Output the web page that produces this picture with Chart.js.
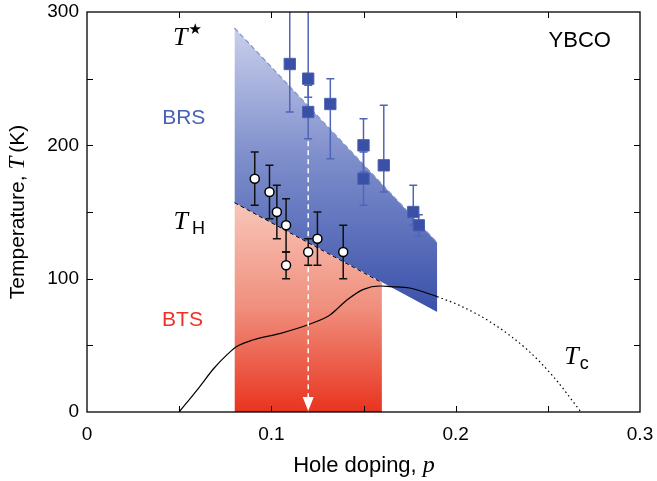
<!DOCTYPE html>
<html>
<head>
<meta charset="utf-8">
<script src="https://cdn.jsdelivr.net/npm/chart.js@4.4.1/dist/chart.umd.min.js"></script>
<style>
  body { margin: 0; background: #fff; }
</style>
</head>
<body>
<canvas id="phaseChart" width="657" height="481"></canvas>
<script>
// T* points (blue squares) with error bars
const starP  = [0.110, 0.120, 0.120, 0.132, 0.150, 0.150, 0.161, 0.177, 0.180];
const starT  = [261, 250, 225, 231, 200, 175, 185, 150, 140];
const starLo = [225, 236, 205, 190, 180, 155, 165, 140, 132];
const starHi = [320, 320, 245, 250, 220, 195, 230, 170, 148];

// T_H points (open circles) with error bars
const hP  = [0.091, 0.099, 0.103, 0.108, 0.108, 0.120, 0.125, 0.139];
const hT  = [175, 165, 150, 140, 110, 120, 130, 120];
const hLo = [155, 145, 130, 120, 100, 110, 110, 100];
const hHi = [195, 185, 170, 160, 120, 130, 150, 140];

// shaded regions: BRS band between the T* line and the T_H line, BTS below T_H
const bandP = [0.08, 0.19];
const bandTop = [288, 127];
const bandBottom = [157, 75];
const btsP = [0.08, 0.16];
const btsT = [157, 97];

// Tc dome: solid part and dotted extrapolation
const tcP = [0.050, 0.060, 0.069, 0.076, 0.081, 0.090, 0.105, 0.121, 0.132, 0.141, 0.150, 0.159, 0.165, 0.175, 0.190];
const tcT = [0, 17, 33, 43, 49, 54, 59, 66, 73, 84, 92, 94.5, 94, 93, 86.5];
const tcDotP = [0.190, 0.202, 0.220, 0.239, 0.253, 0.268];
const tcDotT = [86.5, 80, 66.5, 46.5, 26.5, 0];

// white dashed arrow at p = 0.12
const arrowP = [0.12, 0.12];
const arrowT = [203, 0];

const xTicks = [0, 0.1, 0.2, 0.3];
const yTicks = [0, 100, 200, 300];

const SANS = '"Liberation Sans", Arial, sans-serif';
const SERIF = '"Liberation Serif", "Times New Roman", serif';

const pts = (xs, ys) => xs.map((x, i) => ({ x: x, y: ys[i] }));

function vGradient(chart, tTop, tBottom, stops) {
    const { ctx, chartArea, scales } = chart;
    if (!chartArea) return stops[stops.length - 1][1];
    const g = ctx.createLinearGradient(0, scales.y.getPixelForValue(tTop), 0, scales.y.getPixelForValue(tBottom));
    stops.forEach(s => g.addColorStop(s[0], s[1]));
    return g;
}

const errorBars = {
    id: 'errorBars',
    beforeDatasetDraw(chart, args) {
        const ds = chart.data.datasets[args.index];
        if (!ds.errLo) return;
        const { ctx, chartArea, scales } = chart;
        ctx.save();
        ctx.beginPath();
        ctx.rect(chartArea.left, chartArea.top, chartArea.width, chartArea.height);
        ctx.clip();
        ctx.strokeStyle = ds.errColor;
        ctx.lineWidth = 1.5;
        ds.data.forEach((pt, i) => {
            const x = scales.x.getPixelForValue(pt.x);
            const y1 = scales.y.getPixelForValue(ds.errLo[i]);
            const y2 = scales.y.getPixelForValue(ds.errHi[i]);
            ctx.beginPath();
            ctx.moveTo(x, y1); ctx.lineTo(x, y2);
            ctx.moveTo(x - 4, y1); ctx.lineTo(x + 4, y1);
            ctx.moveTo(x - 4, y2); ctx.lineTo(x + 4, y2);
            ctx.stroke();
        });
        ctx.restore();
    }
};

// arrow head, box frame and inward ticks on all four sides
const frame = {
    id: 'frame',
    afterDatasetsDraw(chart) {
        const { ctx, chartArea: a, scales } = chart;
        ctx.save();
        const tip = chart.getDatasetMeta(chart.data.datasets.findIndex(d => d.label === 'arrow')).data[1];
        ctx.fillStyle = '#fff';
        ctx.beginPath();
        ctx.moveTo(tip.x, tip.y - 1);
        ctx.lineTo(tip.x - 5.5, tip.y - 15);
        ctx.lineTo(tip.x + 5.5, tip.y - 15);
        ctx.closePath();
        ctx.fill();

        ctx.strokeStyle = '#000';
        ctx.lineWidth = 1.3;
        ctx.strokeRect(a.left, a.top, a.width, a.height);
        ctx.lineWidth = 1;
        ctx.beginPath();
        for (let v = 0.05; v < 0.3; v += 0.05) {
            const x = Math.round(scales.x.getPixelForValue(v)) + 0.5;
            ctx.moveTo(x, a.bottom); ctx.lineTo(x, a.bottom - 6);
            ctx.moveTo(x, a.top); ctx.lineTo(x, a.top + 6);
        }
        for (let v = 50; v < 300; v += 50) {
            const y = Math.round(scales.y.getPixelForValue(v)) + 0.5;
            ctx.moveTo(a.left, y); ctx.lineTo(a.left + 6, y);
            ctx.moveTo(a.right, y); ctx.lineTo(a.right - 6, y);
        }
        ctx.stroke();
        ctx.restore();
    }
};

function drawRich(ctx, parts, x, y) {
    let w = 0;
    parts.forEach(p => { ctx.font = p.font; w += ctx.measureText(p.text).width + (p.gap || 0); });
    let cx = x - w / 2;
    parts.forEach(p => {
        ctx.font = p.font;
        ctx.fillStyle = p.color || '#000';
        ctx.fillText(p.text, cx, y + (p.dy || 0));
        cx += ctx.measureText(p.text).width + (p.gap || 0);
    });
}

const labels = {
    id: 'labels',
    afterDraw(chart) {
        const { ctx, scales } = chart;
        const X = v => scales.x.getPixelForValue(v);
        const Y = v => scales.y.getPixelForValue(v);
        ctx.save();
        ctx.textBaseline = 'middle';
        ctx.textAlign = 'left';
        const it = 'italic 26px ' + SERIF;
        drawRich(ctx, [{ text: 'T', font: it, gap: 1 }, { text: '\u2605', font: '15px "DejaVu Sans"', dy: -9 }], X(0.0545), Y(280));
        drawRich(ctx, [{ text: 'T', font: it, gap: 4 }, { text: 'H', font: '18px ' + SANS, dy: 6 }], X(0.0555), Y(142));
        drawRich(ctx, [{ text: 'T', font: it, gap: 1 }, { text: 'c', font: '18px ' + SANS, dy: 7 }], X(0.2655), Y(41));
        drawRich(ctx, [{ text: 'BRS', font: '21px ' + SANS, color: '#4761b5' }], X(0.0525), Y(220));
        drawRich(ctx, [{ text: 'BTS', font: '21px ' + SANS, color: '#ee3124' }], X(0.0518), Y(69));
        drawRich(ctx, [{ text: 'YBCO', font: '22px ' + SANS }], X(0.2673), Y(278));

        // axis titles
        drawRich(ctx, [{ text: 'Hole doping, ', font: '22px ' + SANS }, { text: 'p', font: 'italic 24px ' + SERIF }], 364, 466);
        ctx.translate(18, 212);
        ctx.rotate(-Math.PI / 2);
        drawRich(ctx, [{ text: 'Temperature, ', font: '21px ' + SANS }, { text: 'T', font: 'italic 23px ' + SERIF, gap: 4 },
                       { text: '(K)', font: '21px ' + SANS }], 0, 0);
        ctx.restore();
    }
};

const ctx = document.getElementById('phaseChart');

new Chart(ctx, {
    type: 'scatter',
    data: {
        datasets: [
            {
                label: 'TH',
                data: pts(hP, hT),
                errLo: hLo, errHi: hHi, errColor: '#111',
                pointStyle: 'circle',
                pointRadius: 4.5,
                backgroundColor: '#fff',
                borderColor: '#000',
                borderWidth: 1.5,
                order: 0
            },
            {
                label: 'Tstar',
                data: pts(starP, starT),
                errLo: starLo, errHi: starHi, errColor: '#4f66b7',
                pointStyle: 'rect',
                pointRadius: 8,
                backgroundColor: '#3a4fa6',
                borderColor: '#4a60b0',
                borderWidth: 1,
                order: 1
            },
            {
                label: 'arrow',
                data: pts(arrowP, arrowT),
                showLine: true,
                borderColor: '#fff',
                borderWidth: 1.5,
                borderDash: [5, 4],
                pointRadius: 0,
                order: 2
            },
            {
                label: 'Tc',
                data: pts(tcP, tcT),
                showLine: true,
                cubicInterpolationMode: 'monotone',
                borderColor: '#000',
                borderWidth: 1.2,
                pointRadius: 0,
                order: 3
            },
            {
                label: 'Tc dotted',
                data: pts(tcDotP, tcDotT),
                showLine: true,
                cubicInterpolationMode: 'monotone',
                borderColor: '#000',
                borderWidth: 1.2,
                borderDash: [1.5, 3],
                pointRadius: 0,
                order: 4
            },
            {
                label: 'BTS',
                data: pts(btsP, btsT),
                showLine: true,
                borderColor: '#000',
                borderWidth: 1,
                borderDash: [4, 3],
                pointRadius: 0,
                fill: 'origin',
                backgroundColor: c => vGradient(c.chart, 157, 0, [[0, '#f8c6ba'], [0.5, '#f08f7d'], [1, '#e8341f']]),
                order: 5
            },
            {
                label: 'BRS',
                data: pts(bandP, bandTop),
                showLine: true,
                borderColor: '#8291cb',
                borderWidth: 1.2,
                borderDash: [5, 3],
                pointRadius: 0,
                fill: '+1',
                backgroundColor: c => vGradient(c.chart, 288, 75, [[0, '#c9cfeb'], [0.45, '#7f8fcc'], [1, '#3a51aa']]),
                order: 6
            },
            {
                label: 'BRS bottom',
                data: pts(bandP, bandBottom),
                showLine: true,
                borderWidth: 0,
                borderColor: 'rgba(0,0,0,0)',
                pointRadius: 0,
                order: 7
            }
        ]
    },
    options: {
        responsive: false,
        animation: false,
        devicePixelRatio: 1,
        layout: { padding: { top: 12, right: 17, left: 0, bottom: 0 } },
        plugins: {
            legend: { display: false },
            tooltip: { enabled: false },
            filler: { propagate: false }
        },
        scales: {
            x: {
                type: 'linear',
                min: 0,
                max: 0.3,
                grid: { display: false, drawTicks: false },
                border: { display: false },
                afterFit: scale => {
                    scale.height = 69;
                    scale.paddingLeft = 0; scale.paddingRight = 0;
                },
                afterBuildTicks: scale => { scale.ticks = xTicks.map(v => ({ value: v })); },
                ticks: {
                    padding: 11,
                    color: '#000',
                    font: { family: SANS, size: 19 },
                    callback: v => String(v)
                }
            },
            y: {
                type: 'linear',
                min: 0,
                max: 300,
                grid: { display: false, drawTicks: false },
                border: { display: false },
                afterFit: scale => {
                    scale.width = 87;
                    scale.paddingTop = 0; scale.paddingBottom = 0;
                },
                afterBuildTicks: scale => { scale.ticks = yTicks.map(v => ({ value: v })); },
                ticks: {
                    padding: 8,
                    color: '#000',
                    font: { family: SANS, size: 19 }
                }
            }
        }
    },
    plugins: [errorBars, frame, labels]
});
</script>
</body>
</html>
